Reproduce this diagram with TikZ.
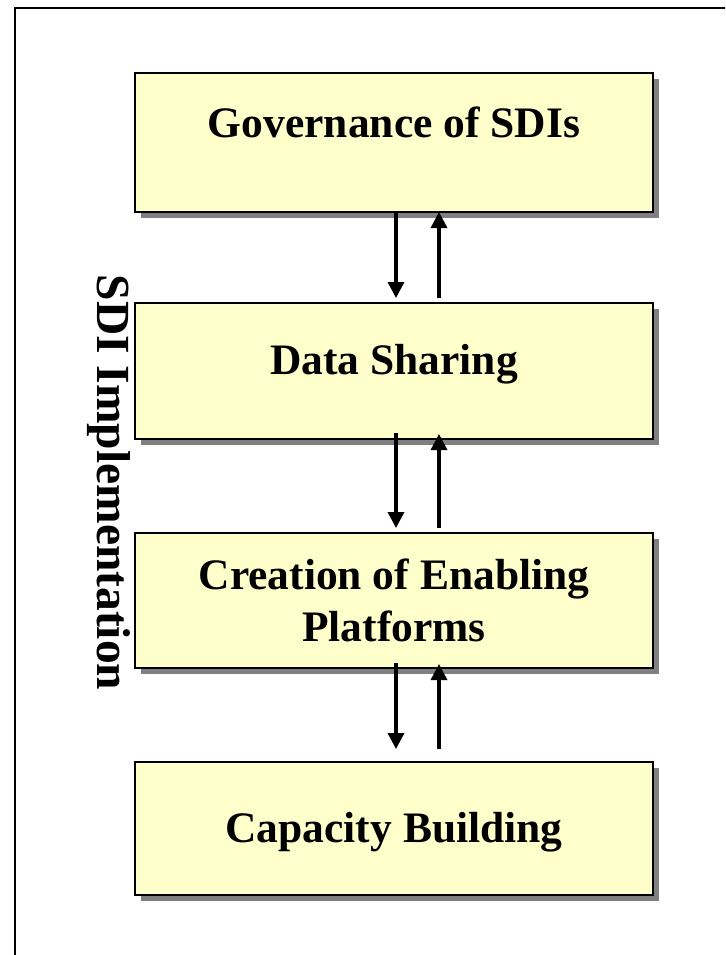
\documentclass[tikz,border=0pt]{standalone}
\usepackage{fontspec}
\setmainfont{Liberation Serif}
\usetikzlibrary{arrows.meta}
\begin{document}
\begin{tikzpicture}[x=1pt,y=-1pt,
  stagebox/.style={draw=black, line width=2pt, fill=boxyellow, minimum width=518pt, inner sep=0pt},
  stageshadow/.style={fill=shadowgray, draw=none},
  stagetext/.style={font=\fontsize{43.5}{52}\bfseries\selectfont, anchor=base, inner sep=0pt},
  flow/.style={line width=3.4pt, -{Triangle[length=16pt,width=16pt]}}]
\definecolor{boxyellow}{HTML}{FFFFCC}
\definecolor{shadowgray}{HTML}{808080}
\useasboundingbox (0,0) rectangle (725,955);
\clip (0,0) rectangle (725,955);
% frame
\draw[line width=2.4pt] (15,970) -- (15,8) -- (740,8);
% shadows
\fill[stageshadow] (141,79) rectangle (659,218);
\fill[stageshadow] (141,309) rectangle (659,445);
\fill[stageshadow] (141,539) rectangle (659,674);
\fill[stageshadow] (141,768) rectangle (659,901);
% boxes
\node[stagebox, minimum height=139pt] (gov) at (394,142.5) {};
\node[stagebox, minimum height=136pt] (data) at (394,371) {};
\node[stagebox, minimum height=135pt] (plat) at (394,600.5) {};
\node[stagebox, minimum height=133pt] (cap) at (394,828.5) {};
% texts
\node[stagetext] (govt) at (394,138) {Governance of SDIs};
\node[stagetext] (datat) at (394,374) {Data Sharing};
\node[stagetext] (platt1) at (394,589) {Creation of Enabling};
\node[stagetext] (platt2) at (394,641) {Platforms};
\node[stagetext] (capt) at (394,842) {Capacity Building};
\node[font=\fontsize{47.5}{52}\bfseries\selectfont, rotate=-90, inner sep=0pt] (impl) at (109,482.5) {SDI Implementation};
% arrows
\coordinate (g1) at (396,212); \coordinate (d1) at (396,298);
\coordinate (g2) at (439,298); \coordinate (d2) at (439,212);
\draw[flow] (g1) -- (d1);
\draw[flow] (g2) -- (d2);
\coordinate (h1) at (396,433); \coordinate (p1) at (396,528);
\coordinate (h2) at (439,528); \coordinate (p2) at (439,434);
\draw[flow] (h1) -- (p1);
\draw[flow] (h2) -- (p2);
\coordinate (k1) at (396,663); \coordinate (c1) at (396,749);
\coordinate (k2) at (439,749); \coordinate (c2) at (439,664);
\draw[flow] (k1) -- (c1);
\draw[flow] (k2) -- (c2);
\end{tikzpicture}
\end{document}
